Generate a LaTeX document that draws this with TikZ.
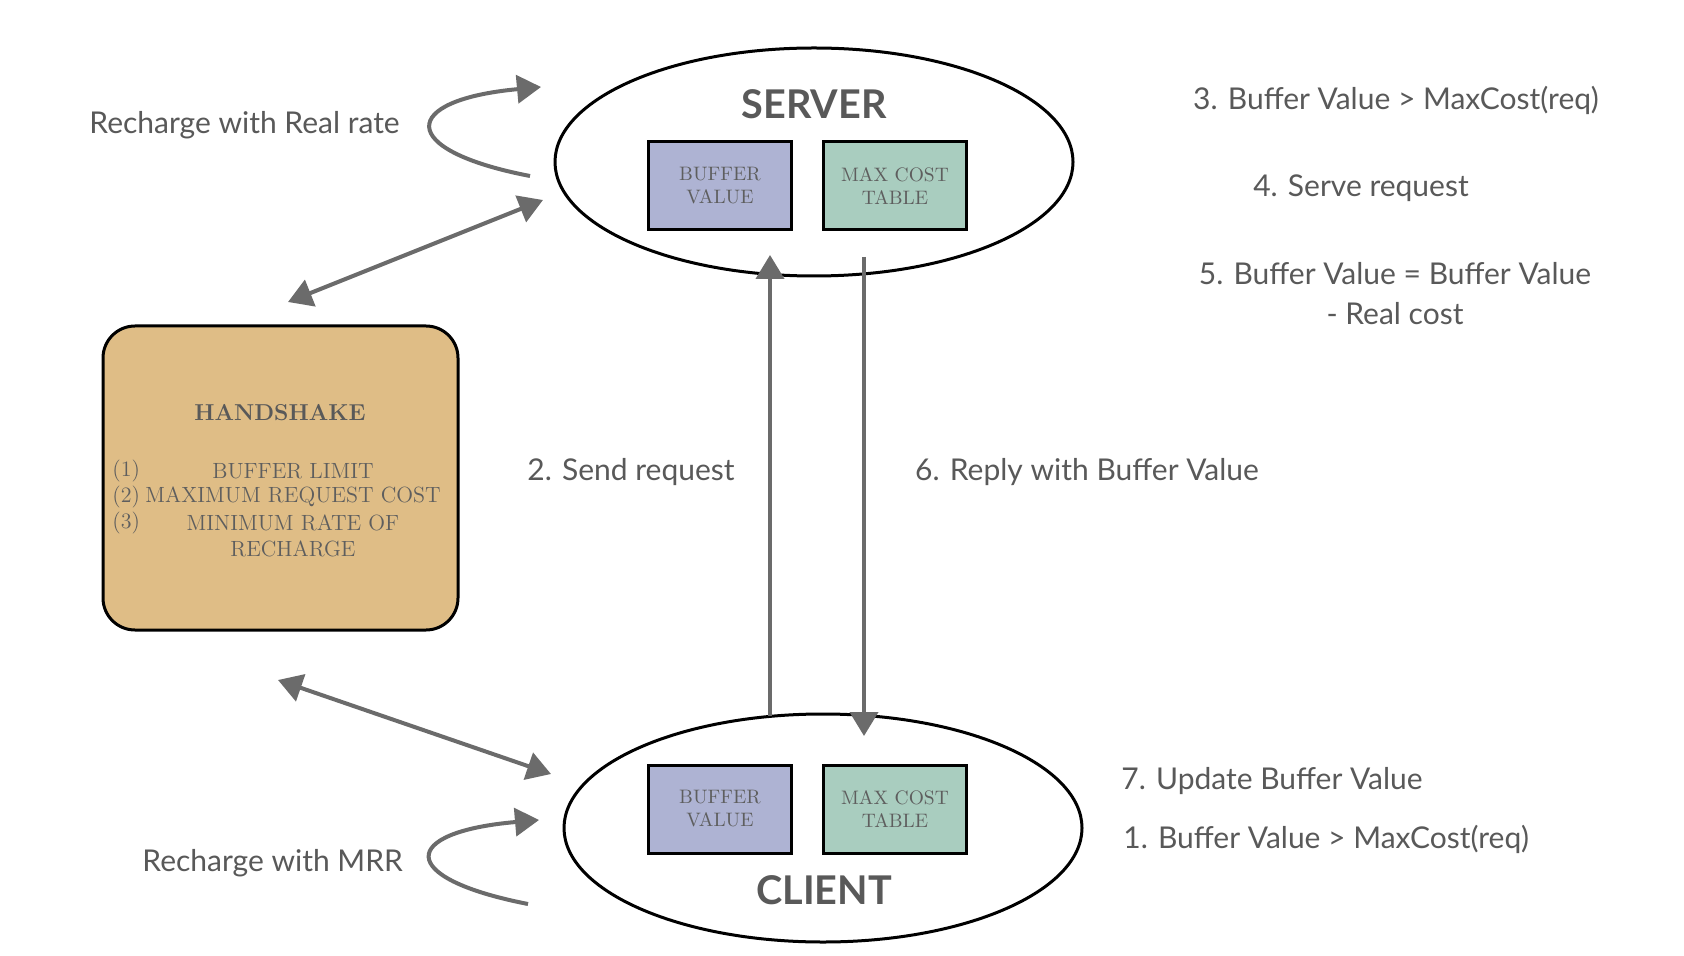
\documentclass[tikz,border=0pt]{standalone}
\usepackage{fontspec}
\newfontfamily\lab{Lato}
\usetikzlibrary{shapes.geometric,arrows.meta}
\definecolor{txt}{HTML}{595959}
\definecolor{boxtxt}{HTML}{5E5E5E}
\definecolor{arrgray}{HTML}{6B6B6B}
\definecolor{bufcol}{HTML}{AEB3D3}
\definecolor{maxcol}{HTML}{A9CDBF}
\definecolor{handcol}{HTML}{DFBD86}
\tikzset{
  party/.style={ellipse,draw=black,line width=1.5pt,minimum width=259pt,minimum height=114pt,inner sep=0pt},
  title/.style={font=\lab\bfseries\fontsize{19.8}{22}\selectfont,text=txt},
  bufbox/.style={draw=black,line width=1.5pt,fill=bufcol,minimum width=71.5pt,minimum height=44pt,align=center,font=\fontsize{9.75}{11.5}\selectfont,text=boxtxt,inner sep=0pt},
  maxbox/.style={bufbox,fill=maxcol},
  handbox/.style={draw=black,line width=1.5pt,fill=handcol,rounded corners=16pt,minimum width=177.5pt,minimum height=152pt},
  lbl/.style={font=\lab\fontsize{15}{18}\selectfont,text=txt,inner sep=0pt},
  hstxt/.style={font=\fontsize{11}{12}\selectfont,text=boxtxt,inner sep=0pt},
  arr/.style={draw=arrgray,line width=2pt,-{Triangle[length=12pt,width=14pt]}},
  darr/.style={draw=arrgray,line width=2pt,{Triangle[length=12pt,width=14pt]}-{Triangle[length=12pt,width=14pt]}},
}
\begin{document}
\begin{tikzpicture}[x=0.5pt,y=-0.5pt]
\useasboundingbox[fill=white] (0,0) rectangle (1684,956);
% server
\node[party] (server) at (814,162) {};
\node[title] (servert) at (814,104) {SERVER};
\node[bufbox] (sbuf) at (720,186) {BUFFER\\VALUE};
\node[maxbox] (smax) at (895,186) {MAX COST\\TABLE};
% client
\node[party] (client) at (823,828) {};
\node[title] (clientt) at (824,890) {CLIENT};
\node[bufbox] (cbuf) at (720,809) {BUFFER\\VALUE};
\node[maxbox] (cmax) at (895,809) {MAX COST\\TABLE};
% handshake
\node[handbox] (hand) at (280.5,478) {};
\node[font=\bfseries\fontsize{11.5}{13}\selectfont,text=txt] (handt) at (280,413) {HANDSHAKE};
\node[hstxt] (h1) at (293,471) {BUFFER LIMIT};
\node[hstxt] (h2) at (293,497) {MAXIMUM REQUEST COST};
\node[hstxt] (h3) at (293,523) {MINIMUM RATE OF};
\node[hstxt] (h4) at (293,549) {RECHARGE};
\node[hstxt,anchor=west] (n1) at (112,471) {(1)};
\node[hstxt,anchor=west] (n2) at (112,497) {(2)};
\node[hstxt,anchor=west] (n3) at (112,523) {(3)};
% labels
\node[lbl,anchor=west] (lrr) at (89,125) {Recharge with Real rate};
\node[lbl,anchor=west] (lmrr) at (142,863) {Recharge with MRR};
\node[lbl] (l3) at (1396,100) {3. Buffer Value > MaxCost(req)};
\node[lbl] (l4) at (1361,188) {4. Serve request};
\node[lbl] (l5) at (1395,274) {5. Buffer Value = Buffer Value};
\node[lbl] (l5b) at (1395,314) {- Real cost};
\node[lbl] (l2) at (631,472) {2. Send request};
\node[lbl] (l6) at (1087,472) {6. Reply with Buffer Value};
\node[lbl,anchor=west] (l7) at (1121,781) {7. Update Buffer Value};
\node[lbl,anchor=west] (l1) at (1123,839) {1. Buffer Value > MaxCost(req)};
% connector ends
\coordinate (sendA) at (770,716);
\coordinate (sendB) at (770,255);
\coordinate (repA) at (864,257);
\coordinate (repB) at (864,736);
\coordinate (sloopA) at (530,176);
\coordinate (sloopB) at (541,87);
\coordinate (cloopA) at (528,904);
\coordinate (cloopB) at (539,820);
\coordinate (hsA) at (288,302);
\coordinate (hsB) at (543,200);
\coordinate (hcA) at (278,680);
\coordinate (hcB) at (551,774);
% connectors
\draw[arr] (sendA) -- (sendB);
\draw[arr] (repA) -- (repB);
\draw[arr] (sloopA) .. controls (395,150) and (400,100) .. (sloopB);
\draw[arr] (cloopA) .. controls (395,878) and (400,832) .. (cloopB);
\draw[darr] (hsA) -- (hsB);
\draw[darr] (hcA) -- (hcB);
\end{tikzpicture}
\end{document}
